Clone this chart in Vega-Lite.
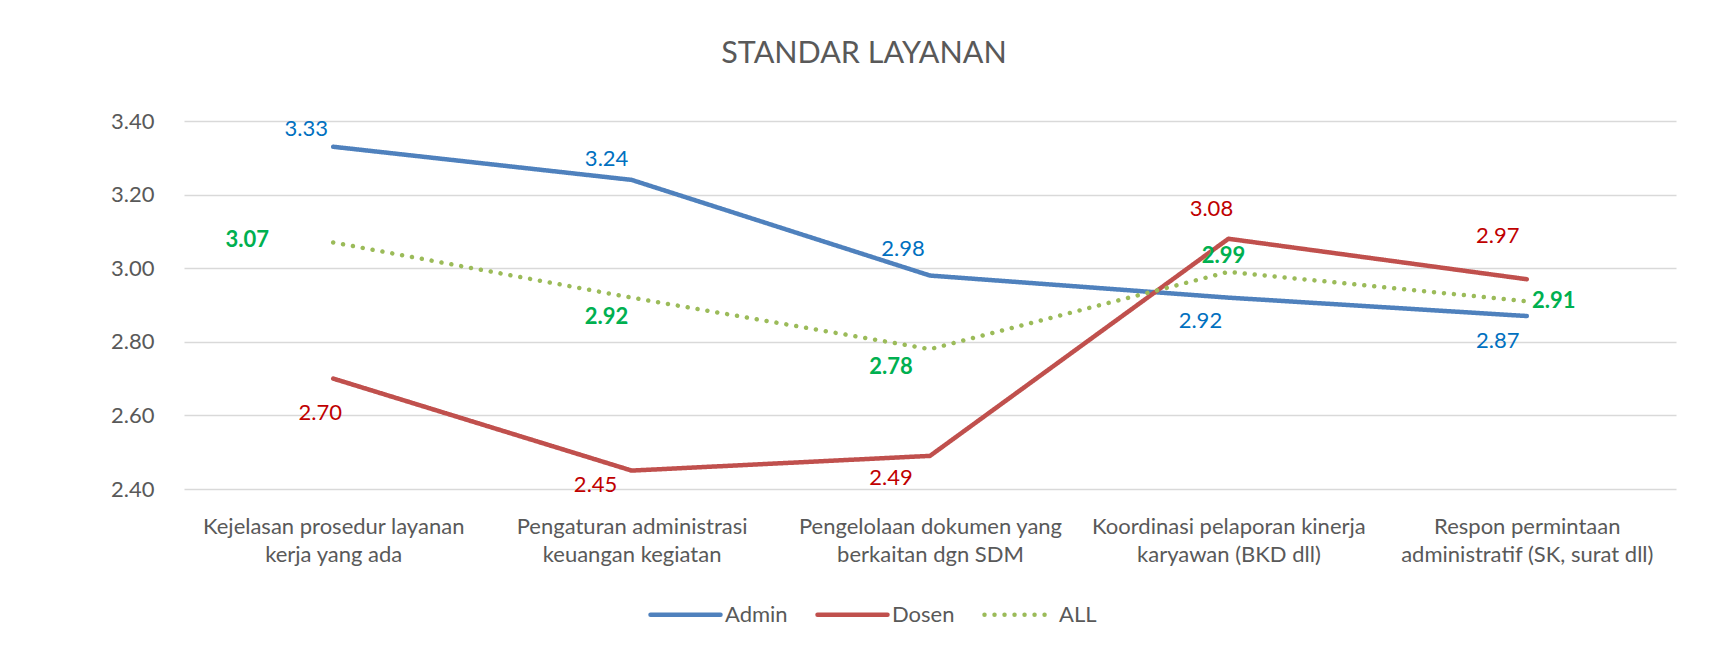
{
  "$schema": "https://vega.github.io/schema/vega-lite/v6.json",
  "autosize": {"type": "none"},
  "width": 1492,
  "height": 368,
  "padding": {"left": 184, "top": 121, "right": 38, "bottom": 160},
  "background": "white",
  "title": {
    "text": "STANDAR LAYANAN",
    "anchor": "middle",
    "frame": "group",
    "dx": -66,
    "baseline": "alphabetic",
    "offset": 17,
    "font": "Lato",
    "fontSize": 30.5,
    "fontWeight": "normal",
    "color": "#595959"
  },
  "config": {
    "view": {"stroke": null},
    "font": "Lato"
  },
  "data": {
    "values": [
      {"cat": "Kejelasan prosedur layanan kerja yang ada", "series": "Admin", "value": 3.33},
      {"cat": "Pengaturan administrasi keuangan kegiatan", "series": "Admin", "value": 3.24},
      {"cat": "Pengelolaan dokumen yang berkaitan dgn SDM", "series": "Admin", "value": 2.98},
      {"cat": "Koordinasi pelaporan kinerja karyawan (BKD dll)", "series": "Admin", "value": 2.92},
      {"cat": "Respon permintaan administratif (SK, surat dll)", "series": "Admin", "value": 2.87},
      {"cat": "Kejelasan prosedur layanan kerja yang ada", "series": "Dosen", "value": 2.70},
      {"cat": "Pengaturan administrasi keuangan kegiatan", "series": "Dosen", "value": 2.45},
      {"cat": "Pengelolaan dokumen yang berkaitan dgn SDM", "series": "Dosen", "value": 2.49},
      {"cat": "Koordinasi pelaporan kinerja karyawan (BKD dll)", "series": "Dosen", "value": 3.08},
      {"cat": "Respon permintaan administratif (SK, surat dll)", "series": "Dosen", "value": 2.97},
      {"cat": "Kejelasan prosedur layanan kerja yang ada", "series": "ALL", "value": 3.07},
      {"cat": "Pengaturan administrasi keuangan kegiatan", "series": "ALL", "value": 2.92},
      {"cat": "Pengelolaan dokumen yang berkaitan dgn SDM", "series": "ALL", "value": 2.78},
      {"cat": "Koordinasi pelaporan kinerja karyawan (BKD dll)", "series": "ALL", "value": 2.99},
      {"cat": "Respon permintaan administratif (SK, surat dll)", "series": "ALL", "value": 2.91}
    ]
  },
  "encoding": {
    "x": {
      "field": "cat",
      "type": "nominal",
      "sort": null,
      "scale": {"type": "point", "padding": 0.5},
      "axis": {
        "title": null,
        "labelAngle": 0,
        "domain": false,
        "ticks": false,
        "grid": false,
        "labelFont": "Lato",
        "labelFontSize": 22,
        "labelColor": "#595959",
        "labelPadding": 27,
        "labelLineHeight": 28,
        "labelLimit": 400,
        "labelExpr": "datum.label == 'Kejelasan prosedur layanan kerja yang ada' ? ['Kejelasan prosedur layanan', 'kerja yang ada'] : datum.label == 'Pengaturan administrasi keuangan kegiatan' ? ['Pengaturan administrasi', 'keuangan kegiatan'] : datum.label == 'Pengelolaan dokumen yang berkaitan dgn SDM' ? ['Pengelolaan dokumen yang', 'berkaitan dgn SDM'] : datum.label == 'Koordinasi pelaporan kinerja karyawan (BKD dll)' ? ['Koordinasi pelaporan kinerja', 'karyawan (BKD dll)'] : ['Respon permintaan', 'administratif (SK, surat dll)']"
      }
    },
    "y": {
      "field": "value",
      "type": "quantitative",
      "scale": {"domain": [2.4, 3.4], "nice": false, "zero": false},
      "axis": {
        "title": null,
        "values": [2.4, 2.6, 2.8, 3.0, 3.2, 3.4],
        "format": ".2f",
        "domain": false,
        "ticks": false,
        "grid": true,
        "gridColor": "#D9D9D9",
        "gridWidth": 1.5,
        "labelFont": "Lato",
        "labelFontSize": 22,
        "labelColor": "#595959",
        "labelPadding": 30
      }
    }
  },
  "layer": [
    {
      "mark": {"type": "line", "strokeWidth": 4.5, "strokeCap": "round", "strokeJoin": "round"},
      "encoding": {
        "color": {
          "field": "series",
          "type": "nominal",
          "scale": {"domain": ["Admin", "Dosen", "ALL"], "range": ["#4F81BD", "#C0504D", "#9BBB59"]},
          "legend": {
            "title": null,
            "orient": "none",
            "direction": "horizontal",
            "legendX": 464,
            "legendY": 456,
            "padding": 0,
            "symbolType": "stroke",
            "symbolSize": 4900,
            "symbolStrokeWidth": 4.5,
            "labelOffset": 2,
            "columnPadding": 20,
            "labelFont": "Lato",
            "labelFontSize": 22,
            "labelColor": "#595959",
            "encode": {"symbols": {"update": {"strokeCap": {"value": "round"}}}}
          }
        },
        "strokeDash": {
          "field": "series",
          "type": "nominal",
          "scale": {"domain": ["Admin", "Dosen", "ALL"], "range": [[1, 0], [1, 0], [0.01, 10]]},
          "legend": {
            "title": null,
            "orient": "none",
            "direction": "horizontal",
            "legendX": 464,
            "legendY": 456,
            "padding": 0,
            "symbolType": "stroke",
            "symbolSize": 4900,
            "symbolStrokeWidth": 4.5,
            "labelOffset": 2,
            "columnPadding": 20,
            "labelFont": "Lato",
            "labelFontSize": 22,
            "labelColor": "#595959",
            "encode": {"symbols": {"update": {"strokeCap": {"value": "round"}}}}
          }
        }
      }
    },
    {"transform": [{"filter": "datum.series == 'Admin' && slice(datum.cat, 0, 5) == 'Kejel'"}], "mark": {"type": "text", "dx": -27, "dy": -18, "color": "#0070C0", "fontSize": 22, "font": "Lato"}, "encoding": {"text": {"field": "value", "format": ".2f"}}},
    {"transform": [{"filter": "datum.series == 'Admin' && slice(datum.cat, 0, 5) == 'Penga'"}], "mark": {"type": "text", "dx": -25, "dy": -21, "color": "#0070C0", "fontSize": 22, "font": "Lato"}, "encoding": {"text": {"field": "value", "format": ".2f"}}},
    {"transform": [{"filter": "datum.series == 'Admin' && slice(datum.cat, 0, 5) == 'Penge'"}], "mark": {"type": "text", "dx": -27, "dy": -27, "color": "#0070C0", "fontSize": 22, "font": "Lato"}, "encoding": {"text": {"field": "value", "format": ".2f"}}},
    {"transform": [{"filter": "datum.series == 'Admin' && slice(datum.cat, 0, 5) == 'Koord'"}], "mark": {"type": "text", "dx": -28, "dy": 23, "color": "#0070C0", "fontSize": 22, "font": "Lato"}, "encoding": {"text": {"field": "value", "format": ".2f"}}},
    {"transform": [{"filter": "datum.series == 'Admin' && slice(datum.cat, 0, 5) == 'Respo'"}], "mark": {"type": "text", "dx": -29, "dy": 25, "color": "#0070C0", "fontSize": 22, "font": "Lato"}, "encoding": {"text": {"field": "value", "format": ".2f"}}},
    {"transform": [{"filter": "datum.series == 'Dosen' && slice(datum.cat, 0, 5) == 'Kejel'"}], "mark": {"type": "text", "dx": -13, "dy": 34, "color": "#C00000", "fontSize": 22, "font": "Lato"}, "encoding": {"text": {"field": "value", "format": ".2f"}}},
    {"transform": [{"filter": "datum.series == 'Dosen' && slice(datum.cat, 0, 5) == 'Penga'"}], "mark": {"type": "text", "dx": -36, "dy": 14, "color": "#C00000", "fontSize": 22, "font": "Lato"}, "encoding": {"text": {"field": "value", "format": ".2f"}}},
    {"transform": [{"filter": "datum.series == 'Dosen' && slice(datum.cat, 0, 5) == 'Penge'"}], "mark": {"type": "text", "dx": -39, "dy": 22, "color": "#C00000", "fontSize": 22, "font": "Lato"}, "encoding": {"text": {"field": "value", "format": ".2f"}}},
    {"transform": [{"filter": "datum.series == 'Dosen' && slice(datum.cat, 0, 5) == 'Koord'"}], "mark": {"type": "text", "dx": -17, "dy": -30, "color": "#C00000", "fontSize": 22, "font": "Lato"}, "encoding": {"text": {"field": "value", "format": ".2f"}}},
    {"transform": [{"filter": "datum.series == 'Dosen' && slice(datum.cat, 0, 5) == 'Respo'"}], "mark": {"type": "text", "dx": -29, "dy": -43, "color": "#C00000", "fontSize": 22, "font": "Lato"}, "encoding": {"text": {"field": "value", "format": ".2f"}}},
    {"transform": [{"filter": "datum.series == 'ALL' && slice(datum.cat, 0, 5) == 'Kejel'"}], "mark": {"type": "text", "dx": -86, "dy": -2, "color": "#00B050", "fontSize": 22, "fontWeight": "bold", "font": "Lato"}, "encoding": {"text": {"field": "value", "format": ".2f"}}},
    {"transform": [{"filter": "datum.series == 'ALL' && slice(datum.cat, 0, 5) == 'Penga'"}], "mark": {"type": "text", "dx": -25, "dy": 19, "color": "#00B050", "fontSize": 22, "fontWeight": "bold", "font": "Lato"}, "encoding": {"text": {"field": "value", "format": ".2f"}}},
    {"transform": [{"filter": "datum.series == 'ALL' && slice(datum.cat, 0, 5) == 'Penge'"}], "mark": {"type": "text", "dx": -39, "dy": 18, "color": "#00B050", "fontSize": 22, "fontWeight": "bold", "font": "Lato"}, "encoding": {"text": {"field": "value", "format": ".2f"}}},
    {"transform": [{"filter": "datum.series == 'ALL' && slice(datum.cat, 0, 5) == 'Koord'"}], "mark": {"type": "text", "dx": -5, "dy": -16, "color": "#00B050", "fontSize": 22, "fontWeight": "bold", "font": "Lato"}, "encoding": {"text": {"field": "value", "format": ".2f"}}},
    {"transform": [{"filter": "datum.series == 'ALL' && slice(datum.cat, 0, 5) == 'Respo'"}], "mark": {"type": "text", "dx": 27, "dy": 0, "color": "#00B050", "fontSize": 22, "fontWeight": "bold", "font": "Lato"}, "encoding": {"text": {"field": "value", "format": ".2f"}}}
  ]
}
